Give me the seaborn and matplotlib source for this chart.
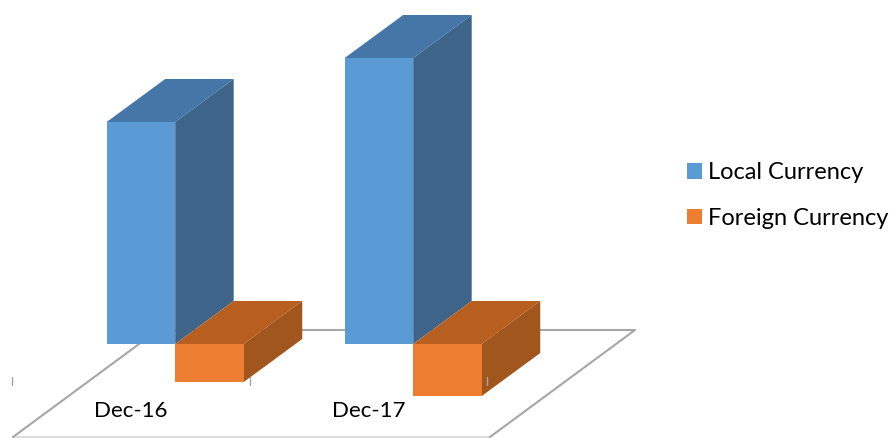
import matplotlib
matplotlib.use("Agg")
import matplotlib.pyplot as plt
import pandas as pd
import seaborn as sns
from matplotlib.patches import Polygon

# Balances per period; foreign currency hangs below the baseline
periods = ["Dec-16", "Dec-17"]
local_currency = [222, 286]
foreign_currency = [-38, -52]

BLUE, BLUE_TOP, BLUE_SIDE = "#5B9BD5", "#4477A8", "#3E6489"
ORANGE, ORANGE_TOP, ORANGE_SIDE = "#ED7D31", "#B85F20", "#A0561C"
GRID = "#A6A6A6"

W, H = 890, 438
PX_PER_CAT = 238.0      # horizontal pixels between the two periods
X0, Y0 = 175.2, 344.0   # pixel position of first category on the baseline

sns.set_theme(style="white")
plt.rcParams["font.family"] = ["Lato", "DejaVu Sans"]

fig = plt.figure(figsize=(W / 100, H / 100), dpi=100, facecolor="white")
ax = fig.add_axes([0, 0, 1, 1])

df = pd.DataFrame({
    "period": periods * 2,
    "series": ["Local Currency"] * 2 + ["Foreign Currency"] * 2,
    "value": local_currency + foreign_currency,
})
sns.barplot(data=df, x="period", y="value", hue="series",
            palette=[BLUE, ORANGE], width=0.576, gap=0, linewidth=0,
            saturation=1, errorbar=None, ax=ax)

ax.set_xlim(-X0 / PX_PER_CAT, (W - X0) / PX_PER_CAT)
ax.set_ylim(Y0 - H, Y0)


def px(x, y):
    """Convert pixel coordinates (origin top-left) to data coordinates."""
    return ((x - X0) / PX_PER_CAT, Y0 - y)


# Floor of the pseudo-3D plot: dark back and side edges, pale front edge
ax.plot(*zip(px(13, 437), px(158, 330), px(635, 330), px(490, 437)),
        color=GRID, lw=1.5, zorder=1.1)
ax.plot(*zip(px(13, 437), px(490, 437)), color="#DDDDDD", lw=1.5, zorder=1)

# Extrude every bar backwards to give it a top and a side face
DX = 58.5 / PX_PER_CAT
DY = 43.0
styles = [(BLUE_TOP, BLUE_SIDE, 2), (ORANGE_TOP, ORANGE_SIDE, 4)]
for container, (top_c, side_c, z) in zip(ax.containers, styles):
    for bar in container:
        x0, x1 = bar.get_x(), bar.get_x() + bar.get_width()
        y_low = min(bar.get_y(), bar.get_y() + bar.get_height())
        y_high = max(bar.get_y(), bar.get_y() + bar.get_height())
        ax.add_patch(Polygon([(x0, y_high), (x1, y_high),
                              (x1 + DX, y_high + DY), (x0 + DX, y_high + DY)],
                             closed=True, facecolor=top_c, edgecolor="none",
                             zorder=z))
        ax.add_patch(Polygon([(x1, y_low), (x1, y_high),
                              (x1 + DX, y_high + DY), (x1 + DX, y_low + DY)],
                             closed=True, facecolor=side_c, edgecolor="none",
                             zorder=z))
        bar.set_zorder(z + 1)

# Category separators and labels along the front of the floor
for i in range(len(periods) + 1):
    tx = 12 + i * 237.5
    ax.plot(*zip(px(tx, 377), px(tx, 385)), color="#A6A6A6", lw=1, zorder=6)
for i, label in enumerate(periods):
    ax.text(i - 44.5 / PX_PER_CAT, Y0 - 411, label, ha="center", va="center",
            fontsize=16, color="black", zorder=7)

sns.move_legend(ax, loc="center left", bbox_to_anchor=(687 / W, 1 - 195.5 / H),
                title=None, frameon=False, fontsize=17, handlelength=0.64,
                handleheight=0.64, handletextpad=0.26, labelspacing=1.04,
                borderpad=0, borderaxespad=0, labelcolor="black")

ax.set_xlabel("")
ax.set_ylabel("")
ax.axis("off")

fig.savefig("out.png", dpi=100, facecolor="white")
